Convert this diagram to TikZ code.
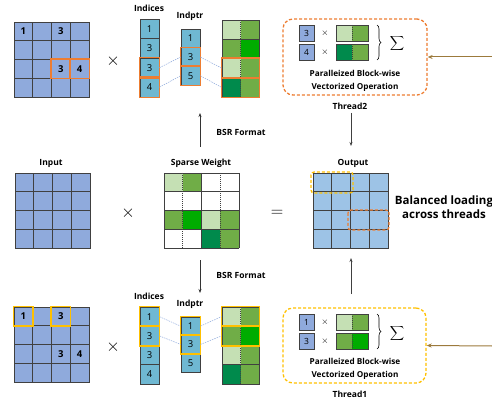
\documentclass[tikz,border=0pt]{standalone}
\usepackage{fontspec}
\setmainfont{Open Sans}
\usetikzlibrary{decorations.pathreplacing,arrows.meta}
\definecolor{inblue}{HTML}{8FAADC}
\definecolor{outblue}{HTML}{9DC3E6}
\definecolor{tealc}{HTML}{6FB8D2}
\definecolor{lgreen}{HTML}{C5E0B4}
\definecolor{mgreen}{HTML}{70AD47}
\definecolor{bgreen}{HTML}{00AC00}
\definecolor{dgreen}{HTML}{008A4C}
\definecolor{orng}{HTML}{ED7D31}
\definecolor{yelw}{HTML}{FFC000}
\definecolor{brwn}{HTML}{9C7A3C}
\definecolor{gridc}{HTML}{404040}
\begin{document}
\begin{tikzpicture}[x=1pt,y=-1pt,
  cellb/.style={draw=gridc, line width=0.7pt, minimum width=18.75pt, minimum height=18.75pt, inner sep=0pt},
  numtxt/.style={inner sep=0pt, font=\bfseries\fontsize{9.5}{9.5}\selectfont},
  idxcell/.style={draw=gridc, line width=0.7pt, fill=tealc, minimum width=19pt, inner sep=0pt, font=\fontsize{9.5}{9.5}\selectfont},
  lbl/.style={inner sep=0pt, font=\bfseries\fontsize{8.5}{8.5}\selectfont},
  hlo/.style={draw=orng, line width=1.4pt},
  hly/.style={draw=yelw, line width=1.4pt},
  conn/.style={draw=inblue, line width=0.5pt, dash pattern=on 1.5pt off 1pt},
  dotl/.style={draw=gridc, line width=0.6pt, dash pattern=on 1pt off 1pt},
  growbox/.style={draw=gridc, line width=0.7pt, minimum width=37pt, inner sep=0pt},
  tbox/.style={rounded corners=10pt, line width=1.3pt, dash pattern=on 3pt off 2pt},
  sbox/.style={draw=gridc, line width=0.7pt, fill=inblue, minimum width=15pt, minimum height=16pt, inner sep=0pt, font=\fontsize{8.5}{8.5}\selectfont},
  barbox/.style={draw=gridc, line width=0.7pt, minimum width=32pt, minimum height=16pt, inner sep=0pt},
  timesbig/.style={inner sep=0pt, font=\fontsize{18}{18}\selectfont},
  timessm/.style={inner sep=0pt, font=\fontsize{9}{9}\selectfont},
  brarrow/.style={draw=brwn, line width=1pt, -{Stealth[length=5pt,width=4pt]}},
  blarrow/.style={draw=black!80, line width=0.6pt, -{Stealth[length=4pt,width=3pt]}},
  hlbox/.style={rounded corners=3pt, line width=1.3pt, dash pattern=on 3pt off 2pt}
]
\useasboundingbox (0,0) rectangle (492,403);

% ---------- left matrices ----------
\foreach \i in {0,...,3}{
  \foreach \j in {0,...,3}{
    \node[cellb, fill=inblue] (tl-\i-\j) at ({14+18.75*(\j+0.5)},{22+18.75*(\i+0.5)}) {};
    \node[cellb, fill=inblue] (bl-\i-\j) at ({14+18.75*(\j+0.5)},{307+18.75*(\i+0.5)}) {};
    \node[cellb, fill=inblue] (in-\i-\j) at ({15+18.75*(\j+0.5)},{173+18.75*(\i+0.5)}) {};
    \node[cellb, fill=outblue] (out-\i-\j) at ({313+18.75*(\j+0.5)},{173+18.75*(\i+0.5)}) {};
  }
}
\node[numtxt] (tln1) at (tl-0-0) {1};
\node[numtxt] (tln2) at (tl-0-2) {3};
\node[numtxt] (tln3) at (tl-2-2) {3};
\node[numtxt] (tln4) at (tl-2-3) {4};
\node[numtxt] (bln1) at (bl-0-0) {1};
\node[numtxt] (bln2) at (bl-0-2) {3};
\node[numtxt] (bln3) at (bl-2-2) {3};
\node[numtxt] (bln4) at (bl-2-3) {4};
\draw[hlo] (tl-2-2.north west) rectangle (tl-2-2.south east);
\draw[hlo] (tl-2-3.north west) rectangle (tl-2-3.south east);
\draw[hly] (bl-0-0.north west) rectangle (bl-0-0.south east);
\draw[hly] (bl-0-2.north west) rectangle (bl-0-2.south east);

% times signs
\node[timesbig] (x1) at (113,61) {$\times$};
\node[timesbig] (x2) at (128,213) {$\times$};
\node[timesbig] (x3) at (113,347) {$\times$};
\node[timesbig] (eq) at (277,213) {$=$};

% ---------- indices / indptr top ----------
\node[lbl] (indl-t) at (149,8) {Indices};
\node[lbl] (ptrl-t) at (190,16) {Indptr};
\foreach \v [count=\c] in {1,3,3,4}
  \node[idxcell, minimum height=19.5pt] (it-\c) at (149.5,{19+19.5*(\c-0.5)}) {\v};
\foreach \v [count=\c] in {1,3,5}
  \node[idxcell, minimum height=18.7pt] (pt-\c) at (190.5,{29+18.7*(\c-0.5)}) {\v};
\draw[hlo] (it-3.north west) rectangle (it-3.south east);
\draw[hlo] (it-4.north west) rectangle (it-4.south east);
\draw[hlo] (pt-2.north west) rectangle (pt-2.south east);
\draw[hlo] (pt-3.north west) rectangle (pt-3.south east);

% ---------- indices / indptr bottom ----------
\node[lbl] (indl-b) at (149,296) {Indices};
\node[lbl] (ptrl-b) at (190,304) {Indptr};
\foreach \v [count=\c] in {1,3,3,4}
  \node[idxcell, minimum height=19.25pt] (ib-\c) at (149.5,{307+19.25*(\c-0.5)}) {\v};
\foreach \v [count=\c] in {1,3,5}
  \node[idxcell, minimum height=18.3pt] (pb-\c) at (190.5,{317+18.3*(\c-0.5)}) {\v};
\draw[hly] (ib-1.north west) rectangle (ib-1.south east);
\draw[hly] (ib-2.north west) rectangle (ib-2.south east);
\draw[hly] (pb-1.north west) rectangle (pb-1.south east);
\draw[hly] (pb-2.north west) rectangle (pb-2.south east);

% ---------- green block matrices ----------
\foreach \l/\r [count=\c] in {lgreen/mgreen, mgreen/bgreen, lgreen/mgreen, dgreen/mgreen}{
  \fill[\l] (222,{20+19.25*(\c-1)}) rectangle (240.5,{20+19.25*\c});
  \fill[\r] (240.5,{20+19.25*(\c-1)}) rectangle (259,{20+19.25*\c});
  \draw[dotl] (240.5,{20+19.25*(\c-1)}) -- (240.5,{20+19.25*\c});
  \node[growbox, minimum height=19.25pt] (gt-\c) at (240.5,{20+19.25*(\c-0.5)}) {};
  \fill[\l] (222,{307+19.25*(\c-1)}) rectangle (240.5,{307+19.25*\c});
  \fill[\r] (240.5,{307+19.25*(\c-1)}) rectangle (259,{307+19.25*\c});
  \draw[dotl] (240.5,{307+19.25*(\c-1)}) -- (240.5,{307+19.25*\c});
  \node[growbox, minimum height=19.25pt] (gb-\c) at (240.5,{307+19.25*(\c-0.5)}) {};
}
\draw[hlo] (gt-3.north west) rectangle (gt-3.south east);
\draw[hlo] (gt-4.north west) rectangle (gt-4.south east);
\draw[hly] (gb-1.north west) rectangle (gb-1.south east);
\draw[hly] (gb-2.north west) rectangle (gb-2.south east);

% connectors
\draw[conn] (it-3.east) -- (pt-2.west);
\draw[conn] (it-4.east) -- (pt-3.west);
\draw[conn] (pt-2.east) -- (gt-3.west);
\draw[conn] (pt-3.east) -- (gt-4.west);
\draw[conn] (ib-1.east) -- (pb-1.west);
\draw[conn] (ib-2.east) -- (pb-2.west);
\draw[conn] (pb-1.east) -- (gb-1.west);
\draw[conn] (pb-2.east) -- (gb-2.west);

% ---------- sparse weight ----------
\foreach \cl [count=\c] in {lgreen,mgreen,white,white, white,white,white,white, mgreen,bgreen,lgreen,mgreen, white,white,dgreen,mgreen}{
  \pgfmathtruncatemacro{\ri}{int((\c-1)/4)}
  \pgfmathtruncatemacro{\ci}{mod(\c-1,4)}
  \fill[\cl] ({164+18.75*\ci},{173+18.75*\ri}) rectangle ({164+18.75*(\ci+1)},{173+18.75*(\ri+1)});
}
\foreach \k in {0,...,4}
  \draw[gridc, line width=0.7pt] (164,{173+18.75*\k}) -- (239,{173+18.75*\k});
\foreach \k in {0,2,4}
  \draw[gridc, line width=0.7pt] ({164+18.75*\k},173) -- ({164+18.75*\k},248);
\foreach \k in {1,3}
  \draw[dotl] ({164+18.75*\k},173) -- ({164+18.75*\k},248);
\node[inner sep=0pt, minimum width=75pt, minimum height=75pt] (sw) at (201.5,210.5) {};

% labels
\node[lbl] (inl) at (51,163) {Input};
\node[lbl] (swl) at (201,163) {Sparse Weight};
\node[lbl] (outl) at (353,163) {Output};

% BSR arrows
\coordinate (bsrt-a) at (200,147);
\coordinate (bsrt-b) at (200,113);
\draw[blarrow] (bsrt-a) -- (bsrt-b);
\node[lbl] (bsrtl) at (241,132) {BSR Format};
\coordinate (bsrb-a) at (200,260);
\coordinate (bsrb-b) at (200,293);
\draw[blarrow] (bsrb-a) -- (bsrb-b);
\node[lbl] (bsrbl) at (241,275) {BSR Format};

% output highlights
\draw[hlbox, draw=yelw] (311,172) rectangle (353,193);
\draw[hlbox, draw=orng] (348,210) rectangle (389,230);
\node[inner sep=0pt, align=center, font=\bfseries\fontsize{11.5}{13.5}\selectfont] (bal) at (444,207) {Balanced loading\\across threads};

% ---------- thread 2 (top) ----------
\node[tbox, draw=orng, minimum width=144pt, minimum height=76pt] (th2) at (355,57) {};
\node[sbox] (t2a) at (306.5,33) {3};
\node[sbox] (t2b) at (306.5,52) {4};
\node[timessm] (t2xa) at (325,33) {$\times$};
\node[timessm] (t2xb) at (325,52) {$\times$};
\fill[lgreen] (336,25) rectangle (352,41); \fill[mgreen] (352,25) rectangle (368,41);
\fill[dgreen] (336,44) rectangle (352,60); \fill[mgreen] (352,44) rectangle (368,60);
\draw[dotl] (352,25) -- (352,41);
\draw[dotl] (352,44) -- (352,60);
\node[barbox] (t2ga) at (352,33) {};
\node[barbox] (t2gb) at (352,52) {};
\draw[line width=0.6pt, decorate, decoration={brace, amplitude=4pt}] (377,25) -- (377,60);
\node[inner sep=0pt, font=\fontsize{12}{12}\selectfont] (t2s) at (397,44) {$\displaystyle\sum$};
\node[lbl, align=center, font=\bfseries\fontsize{8.2}{12.5}\selectfont] (t2t) at (355,81) {Paralleized Block-wise\\Vectorized Operation};
\node[lbl] (t2n) at (350,106) {Thread2};
\coordinate (r2) at (492,57);
\draw[brarrow] (r2) -- (th2.east);
\coordinate (t2o-a) at (351,113);
\coordinate (t2o-b) at (351,146);
\draw[blarrow, draw=gridc] (t2o-a) -- (t2o-b);

% ---------- thread 1 (bottom) ----------
\node[tbox, draw=yelw, minimum width=143pt, minimum height=75pt] (th1) at (354.5,345.5) {};
\node[sbox] (t1a) at (306.5,322) {1};
\node[sbox] (t1b) at (306.5,341) {3};
\node[timessm] (t1xa) at (325,322) {$\times$};
\node[timessm] (t1xb) at (325,341) {$\times$};
\fill[lgreen] (336,314) rectangle (352,330); \fill[mgreen] (352,314) rectangle (368,330);
\fill[mgreen] (336,333) rectangle (352,349); \fill[bgreen] (352,333) rectangle (368,349);
\draw[dotl] (352,314) -- (352,330);
\draw[dotl] (352,333) -- (352,349);
\node[barbox] (t1ga) at (352,322) {};
\node[barbox] (t1gb) at (352,341) {};
\draw[line width=0.6pt, decorate, decoration={brace, amplitude=4pt}] (377,314) -- (377,349);
\node[inner sep=0pt, font=\fontsize{12}{12}\selectfont] (t1s) at (397,333) {$\displaystyle\sum$};
\node[lbl, align=center, font=\bfseries\fontsize{8.2}{12.5}\selectfont] (t1t) at (355,369) {Paralleized Block-wise\\Vectorized Operation};
\node[lbl] (t1n) at (350,394) {Thread1};
\coordinate (r1) at (492,346);
\draw[brarrow] (r1) -- (th1.east);
\coordinate (t1o-a) at (351,294);
\coordinate (t1o-b) at (351,258);
\draw[blarrow, draw=gridc] (t1o-a) -- (t1o-b);
\end{tikzpicture}
\end{document}
